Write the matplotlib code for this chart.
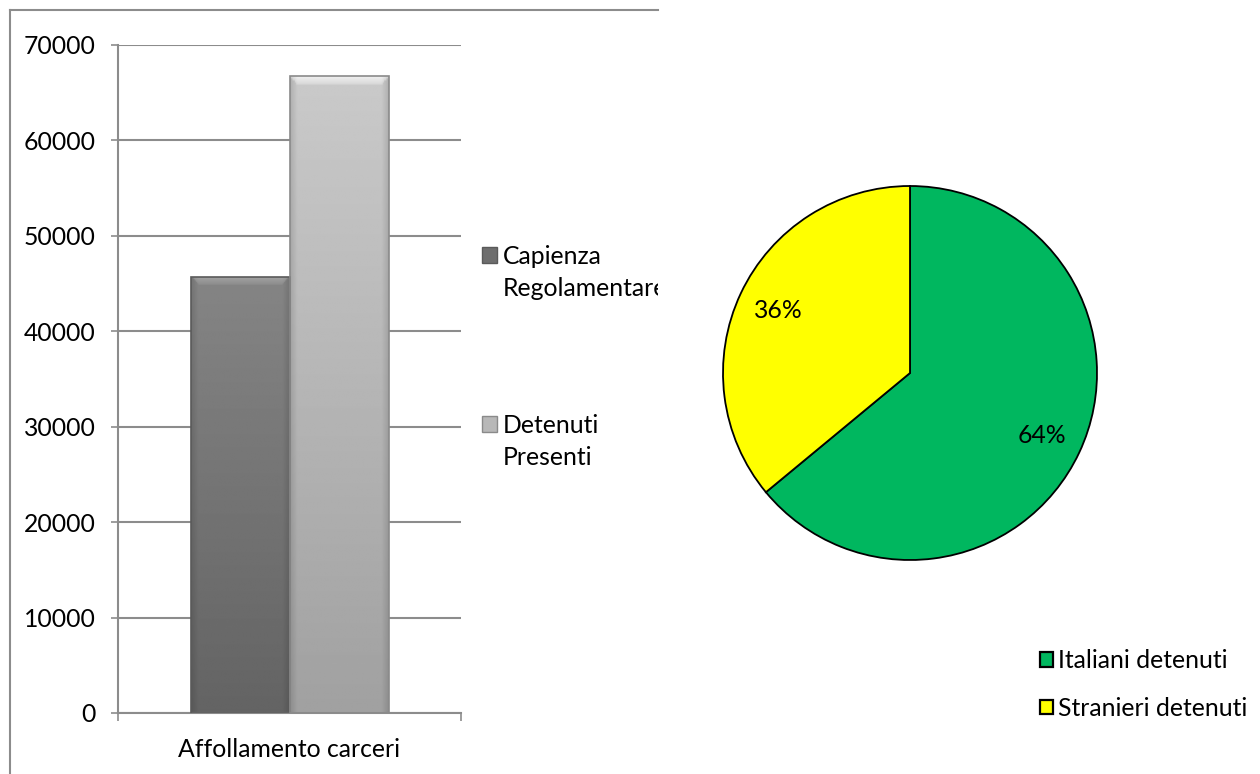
import numpy as np
import matplotlib
matplotlib.use("Agg")
import matplotlib.pyplot as plt
from matplotlib.patches import Patch
from matplotlib.lines import Line2D
from matplotlib.transforms import Bbox, TransformedBbox

plt.rcParams['font.family'] = ['Lato', 'DejaVu Sans']

# ---- data ----
bar_category = ["Affollamento carceri"]
bar_series = [["Capienza", "Regolamentare"], ["Detenuti", "Presenti"]]
bar_values = [45700, 66700]
y_ticks = [0, 10000, 20000, 30000, 40000, 50000, 60000, 70000]

pie_labels = ["Italiani detenuti", "Stranieri detenuti"]
pie_values = [64, 36]
pie_colors = ["#00B75F", "#FFFF00"]

FS = 17.8
W, H = 1260, 774
fig = plt.figure(figsize=(W / 100, H / 100), dpi=100)

def fx(px):
    return px / W

def fy(py):
    return 1 - py / H

# outer box of the left chart (top and left edges visible)
box_col = "#8c8c8c"
fig.add_artist(Line2D([fx(10), fx(658)], [fy(10), fy(10)], color=box_col, lw=1.5))
fig.add_artist(Line2D([fx(10), fx(10)], [fy(10), 0], color=box_col, lw=1.5))

# ---- bar chart ----
axb = fig.add_axes([fx(118), fy(713), fx(461) - fx(118), fy(45) - fy(713)])
grid_col = "#8c8c8c"
width = 99 / 343
offsets = [-width / 2, width / 2]
tops = [(0.52, 0.39), (0.79, 0.63)]   # gray levels top/bottom
bevel = [0.64, 0.93]
edge = ["#5a5a5a", "#8a8a8a"]
legend_face = ["#6e6e6e", "#b8b8b8"]
for i, v in enumerate(bar_values):
    b = axb.bar(offsets[i], v, width=width, color="none", edgecolor=edge[i],
                linewidth=1.2, zorder=3)[0]
    nrow, ncol = 300, 80
    t = np.linspace(0, 1, nrow)[:, None]
    g = tops[i][0] + (tops[i][1] - tops[i][0]) * t
    g = np.repeat(g, ncol, axis=1)
    bev_frac = 1000 / v
    nb = max(1, int(bev_frac * nrow))
    xs = np.linspace(0, 1, ncol)
    for r in range(nb):
        inset = 0.08 * (r / nb)
        inner = (xs >= inset) & (xs <= 1 - inset)
        g[r, inner] = bevel[i] - 0.10 * r / nb
    side = np.clip(np.minimum(xs, 1 - xs) / 0.07, 0, 1)
    g = g * (0.88 + 0.12 * side[None, :])
    x0 = offsets[i] - width / 2
    im = axb.imshow(g, cmap="gray", vmin=0, vmax=1, aspect="auto",
                    extent=[x0, x0 + width, 0, v], origin="upper", zorder=2.5,
                    interpolation="bilinear")
    im.set_clip_path(b)

axb.set_xlim(-0.5, 0.5)
axb.set_ylim(0, 70000)
axb.set_yticks(y_ticks)
axb.set_yticklabels([str(t) for t in y_ticks])
axb.yaxis.grid(True, color=grid_col, linewidth=1.5, zorder=0)
axb.set_axisbelow(True)
for s in ["top", "right"]:
    axb.spines[s].set_visible(False)
for s in ["left", "bottom"]:
    axb.spines[s].set_color(grid_col)
    axb.spines[s].set_linewidth(1.5)
axb.tick_params(axis="y", length=5, width=1.2, color=grid_col, pad=11,
                labelsize=FS, labelcolor="black")
axb.set_xticks([-0.5, 0.5])
axb.set_xticklabels(["", ""])
axb.tick_params(axis="x", which="major", direction="out", length=6, width=1.2,
                color=grid_col)
axb.set_xticks([0], minor=True)
axb.set_xticklabels(bar_category, minor=True)
axb.tick_params(axis="x", which="minor", length=0, pad=18, labelsize=FS)

# legends for bars (one per series; clipped at the chart box edge)
clipbox = TransformedBbox(Bbox([[0, 0], [fx(658), 1]]), fig.transFigure)
legend_centers = [272.5, 441.5]
for i, lines in enumerate(bar_series):
    hs = [Patch(facecolor=legend_face[i], edgecolor=edge[i]),
          Patch(facecolor="none", edgecolor="none")]
    lg = fig.legend(hs, lines, loc="center left",
                    bbox_to_anchor=(fx(482), fy(legend_centers[i])),
                    frameon=False, fontsize=FS, handlelength=0.6,
                    handleheight=0.6, handletextpad=0.25, labelspacing=0.38,
                    borderpad=0, borderaxespad=0)
    for t in lg.get_texts():
        t.set_clip_box(clipbox)
        t.set_clip_on(True)

# ---- pie chart ----
R = 187
axp = fig.add_axes([fx(910 - R), fy(373 + R), fx(2 * R), fy(373 - R) - fy(373 + R)])
wedges, texts, autotexts = axp.pie(
    pie_values, colors=pie_colors, startangle=90, counterclock=False,
    autopct="%1.0f%%", pctdistance=0.78,
    wedgeprops=dict(edgecolor="black", linewidth=1.3),
    textprops=dict(fontsize=FS, color="black"))
axp.set_xlim(-1, 1)
axp.set_ylim(-1, 1)
axp.set_aspect("equal")
for w in wedges:
    w.set_clip_on(False)

pie_handles = [Patch(facecolor=c, edgecolor="black", linewidth=1.6) for c in pie_colors]
fig.legend(pie_handles, pie_labels, loc="center left",
           bbox_to_anchor=(fx(1040), fy(684.5)), frameon=False,
           fontsize=FS, handlelength=0.52, handleheight=0.52,
           handletextpad=0.2, labelspacing=0.98, borderpad=0,
           borderaxespad=0)

fig.savefig("out.png", dpi=100)
